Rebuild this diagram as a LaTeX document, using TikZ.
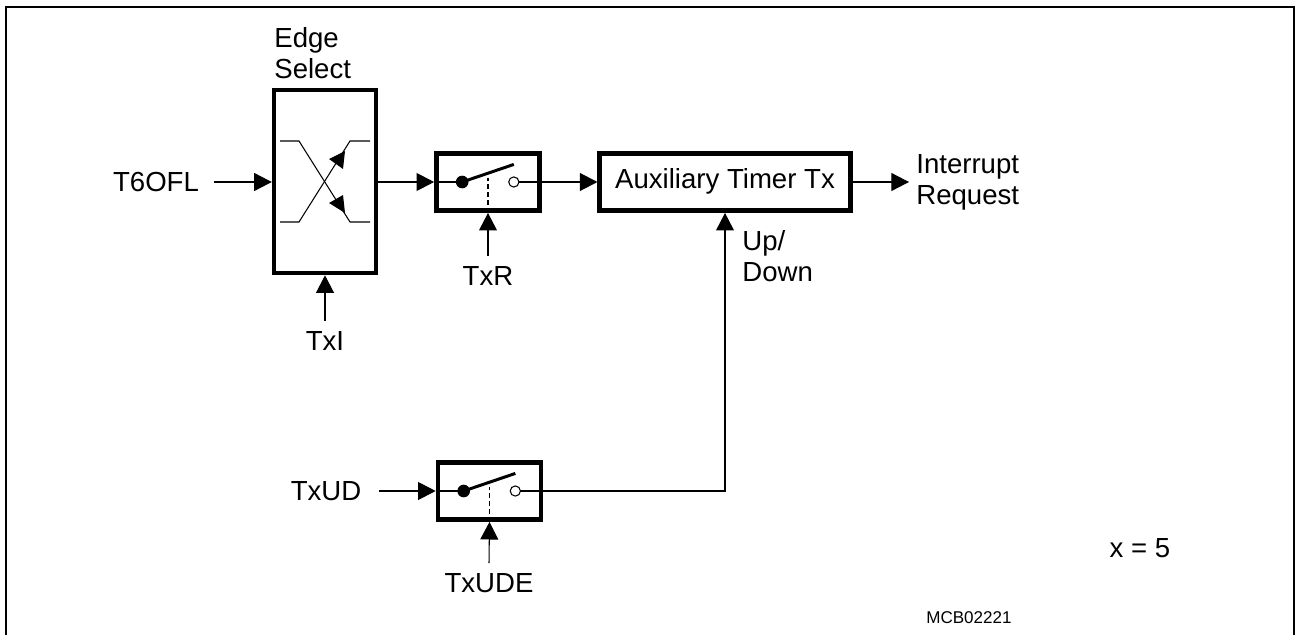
\documentclass[tikz,border=0pt]{standalone}
\usepackage{fontspec}
\setmainfont{Liberation Sans}
\usetikzlibrary{arrows.meta}
\tikzset{
  sigarr/.style    = {-{Triangle[length=10pt,width=10.2pt]},line width=0.6pt},
  sigline/.style   = {line width=0.6pt},
  blockbox/.style  = {draw,line width=2.6pt,inner sep=0pt},
  edgebox/.style   = {blockbox,minimum width=58pt,minimum height=104.2pt},
  switchbox/.style = {blockbox,minimum width=58.7pt,minimum height=32.6pt},
  timerbox/.style  = {blockbox,minimum width=142.6pt,minimum height=32.6pt},
  sigtext/.style   = {font=\fontsize{15.7pt}{17.5pt}\selectfont,inner sep=0pt,align=left},
  smalltext/.style = {font=\fontsize{9.7pt}{11pt}\selectfont,inner sep=0pt}
}
% switch symbol inside a box: #1 box name
\newcommand{\swsymbol}[1]{%
  \coordinate (#1pivot) at ([xshift=-14.7pt]#1.center);
  \coordinate (#1open) at ([xshift=14.7pt]#1.center);
  \coordinate (#1blade) at ([shift={(14.7pt,10pt)}]#1.center);
  \draw[sigline] (#1.west) -- (#1pivot);
  \draw[sigline] (#1open) -- (#1.east);
  \draw[line width=1.7pt] (#1pivot) -- (#1blade);
  \fill (#1pivot) circle (3.6pt);
  \draw[sigline,fill=white] (#1open) circle (2.9pt);
  \draw[sigline,dash pattern=on 3pt off 1.5pt] (#1.south) -- ++(0,20pt);
}
\begin{document}
\begin{tikzpicture}[x=0.02cm,y=-0.02cm]
  \useasboundingbox (0,0) rectangle (1295,635);
  % outer frame, open at the bottom
  \draw[line width=1.2pt] (6,635) -- (6,6.7) -- (1294,6.7) -- (1294,635);

  \node[edgebox]   (edgesel) at (325,181.5) {};
  \node[switchbox] (swr)     at (488,182) {};
  \node[timerbox]  (timer)   at (725,182) {};
  \node[switchbox] (swud)    at (489.5,491) {};

  % crossing inside the edge select block
  \draw[sigline] (280,141) -- (299,141) -- (350,222) -- (370,222);
  \draw[sigline] (280,222) -- (299,222) -- (350,141) -- (370,141);
  \fill (345,151) -- (329,159) -- (343,169) -- cycle;
  \fill (345,213) -- (329,203) -- (343,195) -- cycle;

  \swsymbol{swr}
  \swsymbol{swud}

  \node[sigtext,anchor=south west] (edgelbl) at (274,79) {Edge\\Select};
  \node[sigtext] (t6ofl) at (156,182) {T6OFL};
  \node[sigtext] (txi)   at (325,341) {TxI};
  \node[sigtext] (txr)   at (488,276) {TxR};
  \node[sigtext] (txud)  at (326,491) {TxUD};
  \node[sigtext] (txude) at (489,583) {TxUDE};
  \node[sigtext] (timertxt) at (725,181) {Auxiliary Timer Tx};
  \node[sigtext,anchor=west] (irq) at (916,182) {Interrupt\\Request};
  \node[sigtext,anchor=north west] (updn) at (742,230) {Up/\\Down};
  \node[sigtext] (xval) at (1140,548) {x = 5};
  \node[smalltext] (mcb) at (969,618) {MCB02221};

  \coordinate (irqin) at (909,182);
  \draw[sigarr] (t6ofl.east) ++(15,0) -- (edgesel.west |- t6ofl);
  \draw[sigarr] (edgesel.east |- swr) -- (swr.west);
  \draw[sigarr] (swr.east) -- (timer.west);
  \draw[sigarr] (timer.east) -- (irqin);
  \draw[sigarr] (txi.north) ++(0,-10) -- (edgesel.south);
  \draw[sigarr] (txr.north) ++(0,-10) -- (swr.south);
  \draw[sigarr] (txud.east) ++(17,0) -- (swud.west);
  \draw[sigarr] (txude.north) ++(0,-10) -- (swud.south);
  \draw[sigarr] (swud.east) -| (timer.south);
\end{tikzpicture}
\end{document}
